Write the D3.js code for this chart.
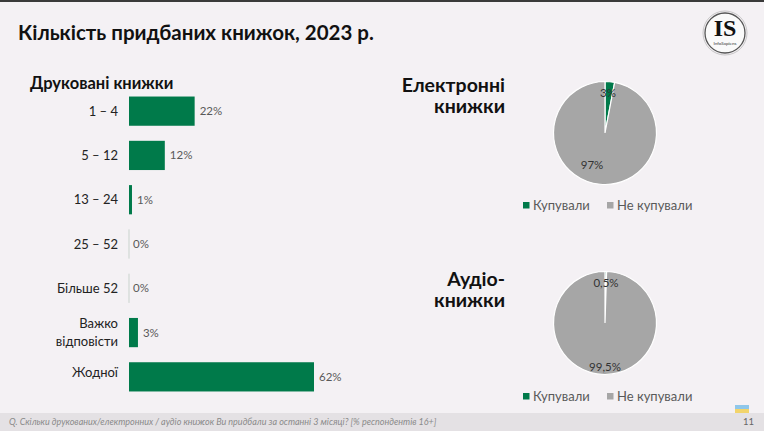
<!DOCTYPE html>
<html>
<head>
<meta charset="utf-8">
<script src="https://cdn.jsdelivr.net/npm/d3@7"></script>
<style>
  html, body { margin: 0; padding: 0; background: #f4f1f4; }
  svg { display: block; font-family: Lato, "Open Sans", sans-serif; }
</style>
</head>
<body>
<div id="chart"></div>
<script>
// printed books: how many bought in last 3 months
var printCategories = ['1 – 4', '5 – 12', '13 – 24', '25 – 52', 'Більше 52', 'Важко|відповісти', 'Жодної'];
var printValues = [22, 12, 1, 0, 0, 3, 62];
var printLabels = ['22%', '12%', '1%', '0%', '0%', '3%', '62%'];

var pieCategories = ['Купували', 'Не купували'];
var ebookValues = [3, 97];
var ebookLabels = ['3%', '97%'];
var audioValues = [0.5, 99.5];
var audioLabels = ['0,5%', '99,5%'];

var width = 764, height = 431;
var green = '#007a4a', grey = '#a6a6a6';

var svg = d3.select('#chart').append('svg')
  .attr('width', width)
  .attr('height', height);

svg.append('rect').attr('width', width).attr('height', height).attr('fill', '#f4f1f4');
svg.append('rect').attr('width', width).attr('height', 2).attr('fill', '#3a3a3a');

// title
svg.append('text')
  .attr('x', 18).attr('y', 40)
  .attr('font-size', 20.5).attr('font-weight', 'bold').attr('fill', '#111')
  .text('Кількість придбаних книжок, 2023 р.');

svg.append('text')
  .attr('x', 30).attr('y', 89)
  .attr('font-size', 16.5).attr('font-weight', 'bold').attr('fill', '#111')
  .text('Друковані книжки');

// bar chart
var x = d3.scaleLinear().domain([0, 62]).range([129, 314]);
var y = d3.scaleBand().domain(printCategories).range([89, 399]).paddingInner(0.34).paddingOuter(0.17);

var bars = svg.append('g');
bars.selectAll('rect.bar')
  .data(printValues)
  .enter().append('rect')
  .attr('class', 'bar')
  .attr('x', x(0))
  .attr('y', function (d, i) { return y(printCategories[i]); })
  .attr('height', y.bandwidth())
  .attr('width', function (d) { return d > 0 ? x(d) - x(0) : 0; })
  .attr('fill', green);

// zero line marks for 0%
var zeroIdx = [];
printValues.forEach(function (d, i) { if (d === 0) zeroIdx.push(i); });
bars.selectAll('line.zero')
  .data(zeroIdx)
  .enter().append('line')
  .attr('x1', x(0)).attr('x2', x(0))
  .attr('y1', function (i) { return y(printCategories[i]); })
  .attr('y2', function (i) { return y(printCategories[i]) + y.bandwidth(); })
  .attr('stroke', '#c9d3cd').attr('stroke-width', 1);

bars.selectAll('text.val')
  .data(printValues)
  .enter().append('text')
  .attr('x', function (d) { return x(d) + (d > 0 ? 5 : 4); })
  .attr('y', function (d, i) { return y(printCategories[i]) + y.bandwidth() / 2 + 4; })
  .attr('font-size', 11.5).attr('fill', '#595959')
  .text(function (d, i) { return printLabels[i]; });

bars.selectAll('text.cat')
  .data(printCategories)
  .enter().append('text')
  .attr('text-anchor', 'end')
  .attr('x', 118)
  .attr('font-size', 13).attr('fill', '#222')
  .each(function (d, i) {
    var parts = d.split('|');
    var c = y(d) + y.bandwidth() / 2;
    var t = d3.select(this);
    if (i === printCategories.length - 1) c -= 4;
    parts.forEach(function (p, j) {
      t.append('tspan')
        .attr('x', 118)
        .attr('y', c + 4.5 + (j - (parts.length - 1) / 2) * 18)
        .text(p);
    });
  });

// pies
function drawPie(cx, cy, values, labels, titleLines, titleY, legendY, labelPos) {
  var g = svg.append('g').attr('transform', 'translate(' + cx + ',' + cy + ')');
  var r = 51.5;
  var pie = d3.pie().sort(null).value(function (d) { return d; });
  var arc = d3.arc().innerRadius(0).outerRadius(r);
  var color = d3.scaleOrdinal().domain(pieCategories).range([green, grey]);

  g.selectAll('path')
    .data(pie(values))
    .enter().append('path')
    .attr('d', arc)
    .attr('fill', function (d, i) { return color(pieCategories[i]); })
    .attr('stroke', '#ffffff').attr('stroke-width', 1.2);

  g.selectAll('text.lbl')
    .data(labels)
    .enter().append('text')
    .attr('text-anchor', 'middle')
    .attr('x', function (d, i) { return labelPos[i][0]; })
    .attr('y', function (d, i) { return labelPos[i][1]; })
    .attr('font-size', 11.5).attr('fill', '#333')
    .text(function (d) { return d; });

  titleLines.forEach(function (t, j) {
    svg.append('text')
      .attr('text-anchor', 'end')
      .attr('x', 505).attr('y', titleY + j * 21)
      .attr('font-size', 19.5).attr('font-weight', 'bold').attr('fill', '#111')
      .text(t);
  });

  var lg = svg.append('g');
  var legendX = [523, 607];
  pieCategories.forEach(function (c, i) {
    lg.append('rect')
      .attr('x', legendX[i]).attr('y', legendY - 8)
      .attr('width', 6.5).attr('height', 6.5)
      .attr('fill', color(c));
    lg.append('text')
      .attr('x', legendX[i] + 10).attr('y', legendY)
      .attr('font-size', 13).attr('fill', '#595959')
      .text(c);
  });
}

drawPie(605, 133, ebookValues, ebookLabels, ['Електронні', 'книжки'], 92, 210, [[3, -36], [-13, 36]]);
drawPie(605, 323, audioValues, audioLabels, ['Аудіо-', 'книжки'], 286, 401, [[1, -36], [0, 48]]);

// logo
var logo = svg.append('g').attr('transform', 'translate(725,33)');
logo.append('circle').attr('r', 20).attr('fill', '#fafafa').attr('stroke', '#555').attr('stroke-width', 1.3);
logo.append('circle').attr('r', 22).attr('fill', 'none').attr('stroke', '#aaa').attr('stroke-width', 0.6);
logo.append('text').attr('text-anchor', 'middle').attr('y', 3)
  .attr('font-family', '"Liberation Serif", serif').attr('font-weight', 'bold')
  .attr('font-size', 24).attr('fill', '#111').text('IS');
logo.append('text').attr('text-anchor', 'middle').attr('y', 12)
  .attr('font-size', 4.5).attr('fill', '#333').text('InfoSapiens');

// footer
svg.append('rect').attr('x', 0).attr('y', 413).attr('width', width).attr('height', 18).attr('fill', '#e4e1e4');
svg.append('text')
  .attr('x', 9).attr('y', 425)
  .attr('font-size', 9).attr('font-style', 'italic').attr('fill', '#8a8a8a')
  .text('Q. Скільки друкованих/електронних / аудіо книжок Ви придбали за останні 3 місяці? [% респондентів 16+]');
svg.append('text')
  .attr('x', 754).attr('y', 425).attr('text-anchor', 'end')
  .attr('font-size', 9.5).attr('fill', '#666')
  .text('11');
svg.append('rect').attr('x', 735).attr('y', 405).attr('width', 14).attr('height', 4).attr('fill', '#8fc7ea');
svg.append('rect').attr('x', 735).attr('y', 409).attr('width', 14).attr('height', 4).attr('fill', '#f2d46b');
</script>
</body>
</html>
